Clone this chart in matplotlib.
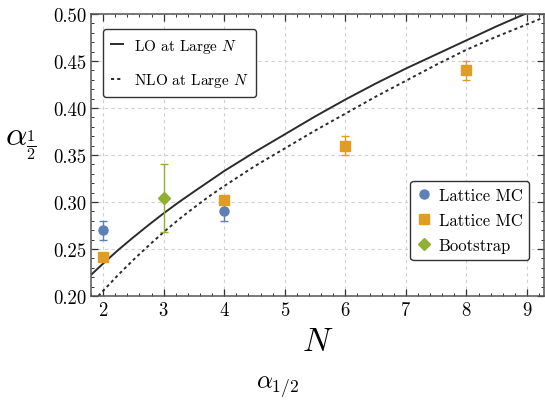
import matplotlib
matplotlib.use("Agg")
import matplotlib.pyplot as plt
from matplotlib.lines import Line2D
from matplotlib.ticker import MultipleLocator, FormatStrFormatter

plt.rcParams['font.family'] = 'serif'
plt.rcParams['font.serif'] = ['cmr10', 'DejaVu Serif']
plt.rcParams['mathtext.fontset'] = 'cm'
plt.rcParams['axes.formatter.use_mathtext'] = True

# large-N curves
lo_N = [1.8, 2, 2.25, 2.5, 2.75, 3, 3.25, 3.5, 3.75, 4, 4.5, 5, 5.5, 6, 6.5, 7, 7.5, 8, 8.5, 9, 9.3]
lo_alpha = [0.2225, 0.2345, 0.249, 0.2625, 0.2755, 0.288, 0.2998, 0.311, 0.322, 0.333, 0.353, 0.372,
            0.391, 0.409, 0.426, 0.442, 0.457, 0.472, 0.487, 0.501, 0.509]
nlo_N = [1.92, 2, 2.25, 2.5, 2.75, 3, 3.25, 3.5, 3.75, 4, 4.5, 5, 5.5, 6, 6.5, 7, 7.5, 8, 8.5, 9, 9.3]
nlo_alpha = [0.200, 0.2055, 0.2225, 0.2385, 0.2535, 0.268, 0.2815, 0.294, 0.306, 0.317, 0.338, 0.357,
             0.376, 0.394, 0.412, 0.429, 0.446, 0.462, 0.476, 0.489, 0.497]

# data points
mc1_N = [2, 4]
mc1_alpha = [0.270, 0.290]
mc1_err = [0.010, 0.010]

mc2_N = [2, 4, 6, 8]
mc2_alpha = [0.242, 0.302, 0.360, 0.440]
mc2_err = [0.004, 0.004, 0.010, 0.010]

boot_N = [3]
boot_alpha = [0.304]
boot_err = [0.036]

blue = '#5E81B5'
orange = '#E19C24'
green = '#8FB032'
line_col = '#2b2b2b'

fig = plt.figure(figsize=(5.45, 4.06), dpi=100)
ax = fig.add_axes([91 / 545, 109 / 406, 453 / 545, 282 / 406])

ax.plot(lo_N, lo_alpha, color=line_col, lw=1.4)
ax.plot(nlo_N, nlo_alpha, color=line_col, lw=1.4, linestyle=(0, (1.6, 1.6)))

ax.errorbar(mc1_N, mc1_alpha, yerr=mc1_err, fmt='o', color=blue, ms=6.5,
            capsize=3, elinewidth=1, capthick=1)
ax.errorbar(mc2_N, mc2_alpha, yerr=mc2_err, fmt='s', color=orange, ms=7,
            capsize=3, elinewidth=1, capthick=1)
ax.errorbar(boot_N, boot_alpha, yerr=boot_err, fmt='D', color=green, ms=6.5,
            capsize=3, elinewidth=1, capthick=1)

ax.set_xlim(1.8, 9.28)
ax.set_ylim(0.20, 0.50)
ax.xaxis.set_major_locator(MultipleLocator(1))
ax.xaxis.set_minor_locator(MultipleLocator(0.2))
ax.yaxis.set_major_locator(MultipleLocator(0.05))
ax.yaxis.set_minor_locator(MultipleLocator(0.01))
ax.yaxis.set_major_formatter(FormatStrFormatter('%.2f'))
ax.tick_params(which='both', direction='in', top=True, right=True, labelsize=13.5, color='#333333')
ax.tick_params(which='major', length=5, width=0.9)
ax.tick_params(which='minor', length=2.5, width=0.7)
for s in ax.spines.values():
    s.set_color('#555555')
    s.set_linewidth(1.1)
ax.grid(True, which='major', linestyle=(0, (3, 3)), color='#d0d0d0', lw=0.8)

ax.set_xlabel('$N$', fontsize=24, labelpad=6)
ax.set_ylabel(r'$\alpha_{\frac{1}{2}}$', fontsize=24, rotation=0, labelpad=12)
ax.yaxis.set_label_coords(-0.155, 0.48)
fig.text(278 / 545, 1 - 388 / 406, r'$\alpha_{1/2}$', fontsize=18, ha='center', va='center')

h1 = [Line2D([], [], color=line_col, lw=1.4),
      Line2D([], [], color=line_col, lw=1.4, linestyle=(0, (1.6, 1.6)))]
leg1 = ax.legend(h1, ['LO at Large $N$', 'NLO at Large $N$'], loc='upper left',
                 bbox_to_anchor=(0.0265, 0.947), borderaxespad=0, fontsize=11,
                 handlelength=0.8, handletextpad=0.7, borderpad=0.5, labelspacing=1.1,
                 fancybox=True, edgecolor='#333333', framealpha=1)
leg1.get_frame().set_linewidth(1.0)
ax.add_artist(leg1)

h2 = [Line2D([], [], marker='o', color=blue, ls='', ms=6.5),
      Line2D([], [], marker='s', color=orange, ls='', ms=7),
      Line2D([], [], marker='D', color=green, ls='', ms=6.5)]
leg2 = ax.legend(h2, ['Lattice MC', 'Lattice MC', 'Bootstrap'], loc='lower right',
                 bbox_to_anchor=(0.967, 0.128), borderaxespad=0, fontsize=12,
                 handlelength=0.8, handletextpad=0.5, borderpad=0.4, labelspacing=0.6,
                 fancybox=True, edgecolor='#333333', framealpha=1)
leg2.get_frame().set_linewidth(1.0)

fig.savefig('out.png', dpi=100)
